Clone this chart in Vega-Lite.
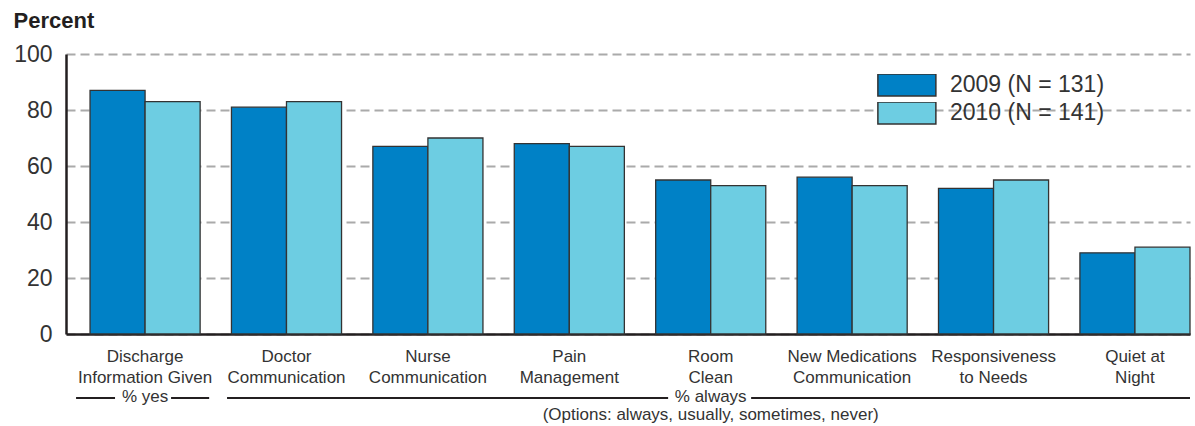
{
  "$schema": "https://vega.github.io/schema/vega-lite/v6.json",
  "width": 1124,
  "height": 280,
  "autosize": {"type": "none"},
  "padding": {"left": 66, "top": 54, "right": 5, "bottom": 92},
  "background": "white",
  "config": {"view": {"stroke": null}, "font": "Liberation Sans"},
  "data": {
    "values": [
      {"category": "Discharge|Information Given", "year": "2009 (N = 131)", "value": 87},
      {"category": "Discharge|Information Given", "year": "2010 (N = 141)", "value": 83},
      {"category": "Doctor|Communication", "year": "2009 (N = 131)", "value": 81},
      {"category": "Doctor|Communication", "year": "2010 (N = 141)", "value": 83},
      {"category": "Nurse|Communication", "year": "2009 (N = 131)", "value": 67},
      {"category": "Nurse|Communication", "year": "2010 (N = 141)", "value": 70},
      {"category": "Pain|Management", "year": "2009 (N = 131)", "value": 68},
      {"category": "Pain|Management", "year": "2010 (N = 141)", "value": 67},
      {"category": "Room|Clean", "year": "2009 (N = 131)", "value": 55},
      {"category": "Room|Clean", "year": "2010 (N = 141)", "value": 53},
      {"category": "New Medications|Communication", "year": "2009 (N = 131)", "value": 56},
      {"category": "New Medications|Communication", "year": "2010 (N = 141)", "value": 53},
      {"category": "Responsiveness|to Needs", "year": "2009 (N = 131)", "value": 52},
      {"category": "Responsiveness|to Needs", "year": "2010 (N = 141)", "value": 55},
      {"category": "Quiet at|Night", "year": "2009 (N = 131)", "value": 29},
      {"category": "Quiet at|Night", "year": "2010 (N = 141)", "value": 31}
    ]
  },
  "layer": [
    {
      "mark": {"type": "bar", "stroke": "#333333", "strokeWidth": 1.3},
      "encoding": {
        "x": {
          "field": "category",
          "type": "nominal",
          "sort": null,
          "scale": {
            "domain": ["Discharge|Information Given", "Doctor|Communication", "Nurse|Communication", "Pain|Management", "Room|Clean", "New Medications|Communication", "Responsiveness|to Needs", "Quiet at|Night"],
            "paddingInner": 0.2215,
            "paddingOuter": 0.085,
            "align": 1
          },
          "axis": {
            "title": null,
            "labelExpr": "split(datum.value, '|')",
            "labelFontSize": 17,
            "labelColor": "#333333",
            "labelLineHeight": 21,
            "labelPadding": 14,
            "labelBaseline": "top",
            "labelOverlap": false,
            "labelLimit": 300,
            "ticks": false,
            "labelAngle": 0,
            "domainColor": "#231f20",
            "domainWidth": 2.5
          }
        },
        "xOffset": {
          "field": "year",
          "type": "nominal",
          "scale": {"paddingInner": 0, "paddingOuter": 0}
        },
        "y": {
          "field": "value",
          "type": "quantitative",
          "scale": {"domain": [0, 100], "nice": false},
          "axis": {
            "title": "Percent",
            "titleAngle": 0,
            "titleAlign": "left",
            "titleBaseline": "alphabetic",
            "titleX": -53,
            "titleY": -27,
            "titleFontSize": 22,
            "titleFontWeight": "bold",
            "titleColor": "#231f20",
            "values": [0, 20, 40, 60, 80, 100],
            "labelFontSize": 23,
            "labelColor": "#333333",
            "labelPadding": 14,
            "ticks": false,
            "domainColor": "#231f20",
            "domainWidth": 2.5,
            "grid": true,
            "gridColor": "#aaaaaa",
            "gridDash": [9, 5],
            "gridWidth": 2
          }
        },
        "color": {
          "field": "year",
          "type": "nominal",
          "scale": {"range": ["#0081C6", "#6DCDE2"]},
          "legend": {
            "orient": "none",
            "legendX": 810,
            "legendY": 20,
            "title": null,
            "padding": 0,
            "symbolType": "M-0.96,-0.5H1.676V0.5H-0.96Z",
            "symbolSize": 1936,
            "symbolStrokeColor": "#333333",
            "symbolStrokeWidth": 1.5,
            "symbolOpacity": 1,
            "labelFontSize": 23,
            "labelColor": "#333333",
            "labelOffset": 28,
            "clipHeight": 22,
            "rowPadding": 5
          }
        }
      }
    },
    {
      "data": {"values": [{}]},
      "mark": {"type": "rule", "color": "#231f20", "strokeWidth": 2},
      "encoding": {
        "x": {"datum": "Discharge|Information Given", "type": "nominal", "bandPosition": -0.127},
        "x2": {"datum": "Discharge|Information Given", "bandPosition": 0.227},
        "y": {"datum": -22.9, "type": "quantitative"}
      }
    },
    {
      "data": {"values": [{}]},
      "mark": {"type": "rule", "color": "#231f20", "strokeWidth": 2},
      "encoding": {
        "x": {"datum": "Discharge|Information Given", "type": "nominal", "bandPosition": 0.736},
        "x2": {"datum": "Discharge|Information Given", "bandPosition": 1.082},
        "y": {"datum": -22.9, "type": "quantitative"}
      }
    },
    {
      "data": {"values": [{}]},
      "mark": {"type": "rule", "color": "#231f20", "strokeWidth": 2},
      "encoding": {
        "x": {"datum": "Doctor|Communication", "type": "nominal", "bandPosition": -0.04},
        "x2": {"datum": "Room|Clean", "bandPosition": 0.113},
        "y": {"datum": -22.9, "type": "quantitative"}
      }
    },
    {
      "data": {"values": [{}]},
      "mark": {"type": "rule", "color": "#231f20", "strokeWidth": 2},
      "encoding": {
        "x": {"datum": "Room|Clean", "type": "nominal", "bandPosition": 0.867},
        "x2": {"datum": "Quiet at|Night", "bandPosition": 1.0},
        "y": {"datum": -22.9, "type": "quantitative"}
      }
    },
    {
      "data": {"values": [{"t": "% yes", "c": "Discharge|Information Given"}, {"t": "% always", "c": "Room|Clean"}]},
      "mark": {"type": "text", "fontSize": 17, "color": "#333333", "baseline": "middle", "align": "center"},
      "encoding": {
        "x": {"field": "c", "type": "nominal"},
        "y": {"datum": -22.6, "type": "quantitative"},
        "text": {"field": "t"}
      }
    },
    {
      "data": {"values": [{"t": "(Options: always, usually, sometimes, never)", "c": "Room|Clean"}]},
      "mark": {"type": "text", "fontSize": 17, "color": "#333333", "baseline": "middle", "align": "center"},
      "encoding": {
        "x": {"field": "c", "type": "nominal"},
        "y": {"datum": -29.1, "type": "quantitative"},
        "text": {"field": "t"}
      }
    }
  ]
}
